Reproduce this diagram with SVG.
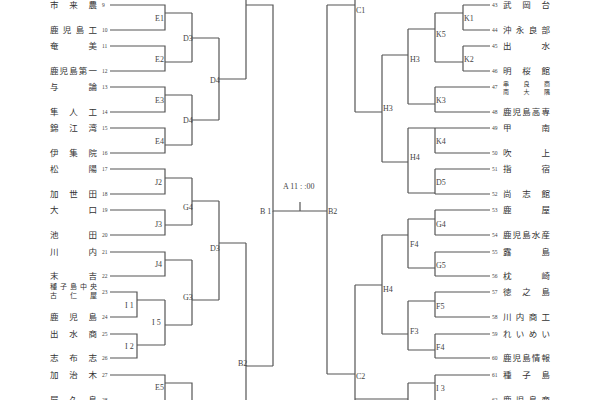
<svg xmlns="http://www.w3.org/2000/svg" width="600" height="400" viewBox="0 0 600 400">
<style>
.l{fill:none;stroke:#555;stroke-width:1.2}
.n{font-family:"Noto Sans CJK JP",sans-serif;font-size:8.5px;fill:#333}
.s{font-family:"Noto Sans CJK JP",sans-serif;font-size:6px;fill:#333}
.m{font-family:"Noto Sans CJK JP",sans-serif;font-size:7px;fill:#333}
.k{font-family:"Liberation Serif",serif;font-size:5.5px;fill:#444}
.g{font-family:"Liberation Serif",serif;font-size:8px;fill:#444}
</style>
<rect width="600" height="400" fill="#fff"/>
<g id="connectors" class="l">
<path d="M110 5H165V30H110M165 13H192M110 46H165V71H110M165 62H192M192 13V62M192 38H219"/>
<path d="M110 87H165V112H110M165 95H192M110 128H165V153H110M165 145H192M192 95V145M192 120H219M219 38V120M219 79H246M246 0V79M246 5H273V211H300"/>
<path d="M110 169H165V194H110M165 178H192M110 210H165V235H110M165 225H192M192 178V225M192 201H219"/>
<path d="M110 252H165V276H110M165 260H192M110 292H137V317H110M137 300H165M110 334H137V358H110M137 345H165M165 300V345M165 325H192M192 260V325M192 300H219M219 201V300M219 243H246M246 243V400M246 366H273M273 211V366"/>
<path d="M110 375H165V400M165 383H192V400"/>
<path d="M300 211H327M300 202V211M327 5V374M327 5H355M355 0V112M355 112H382M382 55V162M382 55H408M408 29V104M408 29H435M435 13V62M435 13H463M463 5V30M463 5H490M463 30H490M435 62H463M463 46V71M463 46H490M463 71H490M408 104H435M435 87V112M435 87H490M435 112H490M382 162H408M408 128V193M408 128H435M435 128V153M435 128H490M435 153H490M408 193H435M435 169V194M435 169H490M435 194H490"/>
<path d="M327 374H355M355 285V400M355 285H382M382 235V334M382 235H408M408 219V268M408 219H435M435 210V235M435 210H490M435 235H490M408 268H435M435 252V276M435 252H490M435 276H490M382 334H408M408 301V350M408 301H435M435 292V317M435 292H490M435 317H490M408 350H435M435 334V358M435 334H490M435 358H490M355 399H382M382 399H408M408 383V400M408 383H435M435 375V400M435 375H490"/>
</g>
<g id="labels" class="g">
<text x="155" y="21">E1</text><text x="155" y="62">E2</text><text x="183" y="41">D3</text><text x="155" y="103">E3</text><text x="183" y="123">D4</text><text x="155" y="144">E4</text><text x="210" y="83">D4</text>
<text x="155" y="185">J2</text><text x="183" y="210">G4</text><text x="155" y="227">J3</text><text x="210" y="251">D3</text><text x="155" y="267">J4</text><text x="183" y="300">G3</text>
<text x="125" y="308">I 1</text><text x="152" y="325">I 5</text><text x="125" y="349">I 2</text><text x="238" y="366">B2</text><text x="155" y="390">E5</text>
<text x="260" y="214">B 1</text><text x="328" y="214">B2</text><text x="283" y="189">A 11 : :00</text>
<text x="356" y="13">C1</text><text x="464" y="21">K1</text><text x="436" y="37">K5</text><text x="464" y="62">K2</text><text x="410" y="62">H3</text><text x="436" y="103">K3</text><text x="383" y="111">H3</text><text x="436" y="144">K4</text><text x="410" y="160">H4</text><text x="436" y="185">D5</text>
<text x="436" y="227">G4</text><text x="410" y="247">F4</text><text x="436" y="268">G5</text><text x="383" y="292">H4</text><text x="436" y="309">F5</text><text x="410" y="334">F3</text><text x="436" y="350">F4</text><text x="356" y="379">C2</text><text x="436" y="391">I 3</text>
</g>
<g id="teams-left">
<g class="n">
<text x="50" y="8" textLength="47" lengthAdjust="spacing">市来農</text>
<text x="50" y="33" textLength="47" lengthAdjust="spacing">鹿児島工</text>
<text x="50" y="49" textLength="47" lengthAdjust="spacing">奄美</text>
<text x="50" y="74" textLength="47" lengthAdjust="spacing">鹿児島第一</text>
<text x="50" y="90" textLength="47" lengthAdjust="spacing">与論</text>
<text x="50" y="115" textLength="47" lengthAdjust="spacing">隼人工</text>
<text x="50" y="131" textLength="47" lengthAdjust="spacing">錦江湾</text>
<text x="50" y="156" textLength="47" lengthAdjust="spacing">伊集院</text>
<text x="50" y="172" textLength="47" lengthAdjust="spacing">松陽</text>
<text x="50" y="197" textLength="47" lengthAdjust="spacing">加世田</text>
<text x="50" y="213" textLength="47" lengthAdjust="spacing">大口</text>
<text x="50" y="238" textLength="47" lengthAdjust="spacing">池田</text>
<text x="50" y="255" textLength="47" lengthAdjust="spacing">川内</text>
<text x="50" y="279" textLength="47" lengthAdjust="spacing">末吉</text>
<text x="50" y="320" textLength="47" lengthAdjust="spacing">鹿児島</text>
<text x="50" y="337" textLength="47" lengthAdjust="spacing">出水商</text>
<text x="50" y="361" textLength="47" lengthAdjust="spacing">志布志</text>
<text x="50" y="378" textLength="47" lengthAdjust="spacing">加治木</text>
<text x="50" y="403" textLength="47" lengthAdjust="spacing">屋久島</text>
</g>
<g class="m">
<text x="50" y="289" textLength="47" lengthAdjust="spacing">種子島中央</text>
<text x="50" y="298" textLength="47" lengthAdjust="spacing">古仁屋</text>
</g>
<g class="k">
<text x="102" y="7">9</text><text x="102" y="32">10</text><text x="102" y="48">11</text><text x="102" y="73">12</text><text x="102" y="89">13</text><text x="102" y="114">14</text><text x="102" y="130">15</text><text x="102" y="155">16</text><text x="102" y="171">17</text><text x="102" y="196">18</text><text x="102" y="212">19</text><text x="102" y="237">20</text><text x="102" y="254">21</text><text x="102" y="278">22</text><text x="102" y="294">23</text><text x="102" y="319">24</text><text x="102" y="336">25</text><text x="102" y="360">26</text><text x="102" y="377">27</text><text x="102" y="402">28</text>
</g>
</g>
<g id="teams-right">
<g class="n">
<text x="503" y="8" textLength="47" lengthAdjust="spacing">武岡台</text>
<text x="503" y="33" textLength="47" lengthAdjust="spacing">沖永良部</text>
<text x="503" y="49" textLength="47" lengthAdjust="spacing">出水</text>
<text x="503" y="74" textLength="47" lengthAdjust="spacing">明桜館</text>
<text x="503" y="115" textLength="47" lengthAdjust="spacing">鹿児島高専</text>
<text x="503" y="131" textLength="47" lengthAdjust="spacing">甲南</text>
<text x="503" y="156" textLength="47" lengthAdjust="spacing">吹上</text>
<text x="503" y="172" textLength="47" lengthAdjust="spacing">指宿</text>
<text x="503" y="197" textLength="47" lengthAdjust="spacing">尚志館</text>
<text x="503" y="213" textLength="47" lengthAdjust="spacing">鹿屋</text>
<text x="503" y="238" textLength="47" lengthAdjust="spacing">鹿児島水産</text>
<text x="503" y="255" textLength="47" lengthAdjust="spacing">露島</text>
<text x="503" y="279" textLength="47" lengthAdjust="spacing">枕崎</text>
<text x="503" y="295" textLength="47" lengthAdjust="spacing">徳之島</text>
<text x="503" y="320" textLength="47" lengthAdjust="spacing">川内商工</text>
<text x="503" y="337" textLength="47" lengthAdjust="spacing">れいめい</text>
<text x="503" y="361" textLength="47" lengthAdjust="spacing">鹿児島情報</text>
<text x="503" y="378" textLength="47" lengthAdjust="spacing">種子島</text>
<text x="503" y="403" textLength="47" lengthAdjust="spacing">鹿児島商</text>
</g>
<g class="s">
<text x="503" y="86" textLength="47" lengthAdjust="spacing">串良商</text>
<text x="503" y="94" textLength="47" lengthAdjust="spacing">南大隅</text>
</g>
<g class="k">
<text x="492" y="7">43</text><text x="492" y="32">44</text><text x="492" y="48">45</text><text x="492" y="73">46</text><text x="492" y="89">47</text><text x="492" y="114">48</text><text x="492" y="130">49</text><text x="492" y="155">50</text><text x="492" y="171">51</text><text x="492" y="196">52</text><text x="492" y="212">53</text><text x="492" y="237">54</text><text x="492" y="254">55</text><text x="492" y="278">56</text><text x="492" y="294">57</text><text x="492" y="319">58</text><text x="492" y="336">59</text><text x="492" y="360">60</text><text x="492" y="377">61</text><text x="492" y="402">62</text>
</g>
</g>
</svg>
